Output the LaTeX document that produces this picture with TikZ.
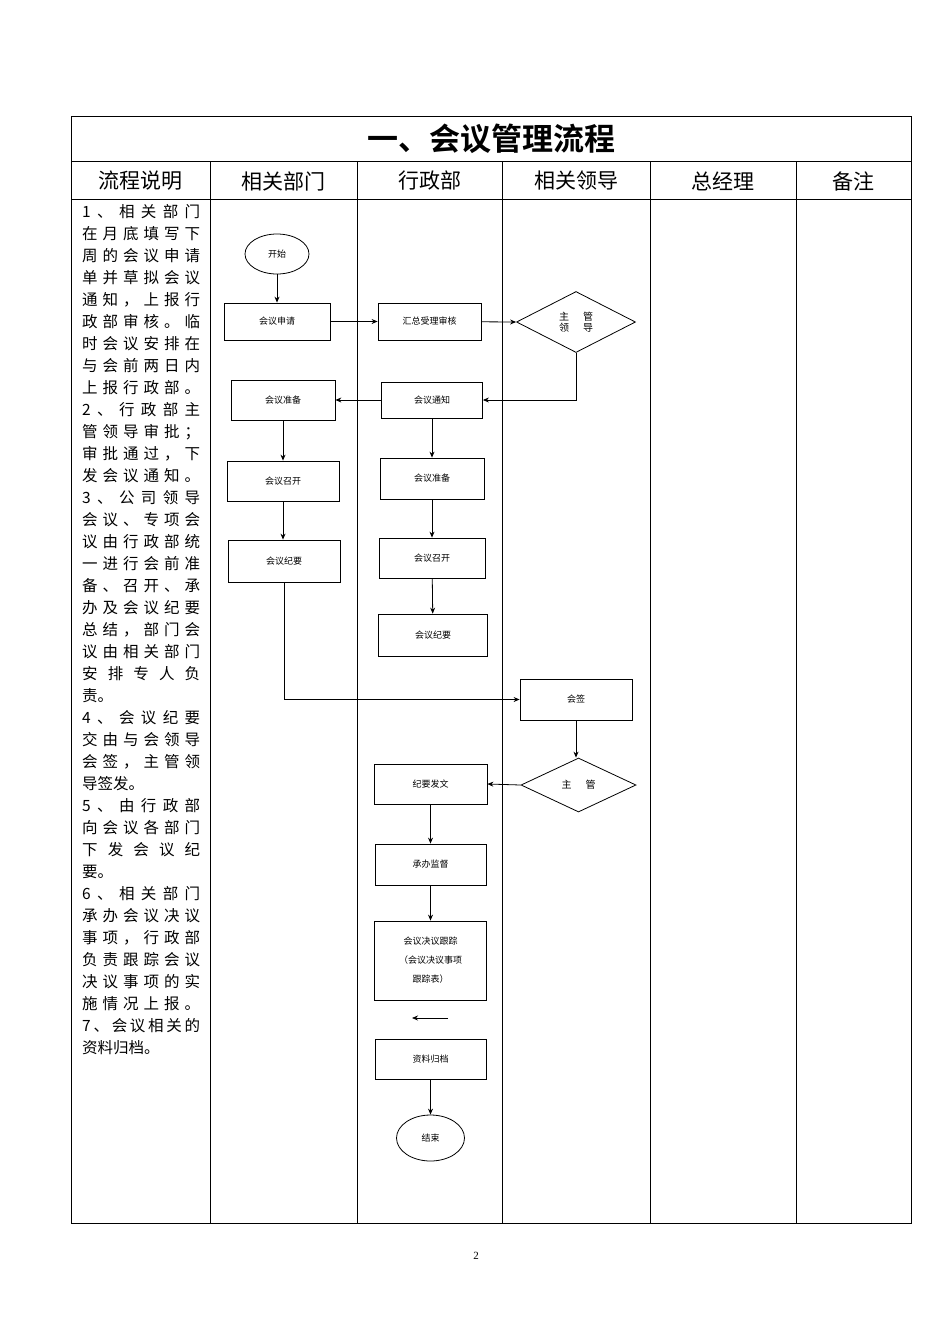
\documentclass[tikz,border=0pt]{standalone}
\usepackage{fontspec}
\setmainfont{Liberation Serif}
\newfontfamily\cjk{Noto Sans CJK SC}
\newfontfamily\cjkb{Noto Sans CJK SC Bold}
\usetikzlibrary{shapes.geometric,arrows.meta}
\def\myspr#1#2\myend{#1\ifx\relax#2\relax\else\hfill\myspr#2\myend\fi}
\begin{document}
\begin{tikzpicture}[x=1pt,y=-1pt,
  bx/.style={draw,line width=0.8pt,font=\cjk\fontsize{9}{11}\selectfont,inner sep=1pt,align=center},
  dm/.style={draw,line width=0.8pt,diamond,inner sep=0pt},
  el/.style={draw,line width=0.8pt,ellipse,font=\cjk\fontsize{9}{11}\selectfont},
  ar/.style={-{Stealth[length=6pt,width=5pt]},line width=0.8pt},
  hd/.style={font=\cjk\fontsize{21}{21}\selectfont},
  ln/.style={anchor=west,font=\cjk\fontsize{15.5}{15.5}\selectfont,inner sep=0pt}]
\useasboundingbox (0,0) rectangle (950,1344);
\draw[line width=0.6pt] (71,116) rectangle (911,1223);
\draw[line width=0.6pt] (71,161) -- (911,161) (71,199) -- (911,199);
\foreach \x in {210,357,502,650,796} \draw[line width=0.6pt] (\x,161) -- (\x,1223);
\node[font=\cjkb\fontsize{31}{31}\selectfont] (title) at (491,139) {一、会议管理流程};
\node[hd] (h1) at (140,181) {流程说明};
\node[hd] (h2) at (283,181) {相关部门};
\node[hd] (h3) at (430,181) {行政部};
\node[hd] (h4) at (576,181) {相关领导};
\node[hd] (h5) at (723,181) {总经理};
\node[hd] (h6) at (853,181) {备注};
\foreach \t [count=\i] in {1、相关部门,在月底填写下,周的会议申请,单并草拟会议,通知，上报行,政部审核。临,时会议安排在,与会前两日内,上报行政部。,2、行政部主,管领导审批；,审批通过，下,发会议通知。,3、公司领导,会议、专项会,议由行政部统,一进行会前准,备、召开、承,办及会议纪要,总结，部门会,议由相关部门,安排专人负,责。,4、会议纪要,交由与会领导,会签，主管领,导签发。,5、由行政部,向会议各部门,下发会议纪,要。,6、相关部门,承办会议决议,事项，行政部,负责跟踪会议,决议事项的实,施情况上报。,7、会议相关的,资料归档。}
  \node[ln] (l\i) at (82,{190+22*\i}) {\ifnum\i=23 \t\else\ifnum\i=27 \t\else\ifnum\i=31 \t\else\ifnum\i=39 \t\else\makebox[118pt][s]{\expandafter\myspr\t\myend}\fi\fi\fi\fi};
\node[el,minimum width=64,minimum height=40] (start) at (277,254) {开始};
\node[bx,minimum width=106,minimum height=37] (sq) at (277,321.5) {会议申请};
\node[bx,minimum width=103,minimum height=37] (hz) at (429.5,321.5) {汇总受理审核};
\node[dm,minimum width=119,minimum height=61] (d1) at (576,322) {};
\node[font=\cjk\fontsize{10}{11}\selectfont,align=center] (d1t) at (576,322) {主\hspace{14pt}管\\领\hspace{14pt}导};
\node[bx,minimum width=104,minimum height=40] (zb1) at (283,400) {会议准备};
\node[bx,minimum width=101,minimum height=36] (tz) at (432,400) {会议通知};
\node[bx,minimum width=112,minimum height=40] (zk1) at (283,481) {会议召开};
\node[bx,minimum width=112,minimum height=42] (jy1) at (284,561) {会议纪要};
\node[bx,minimum width=104,minimum height=41] (zb2) at (432,478.5) {会议准备};
\node[bx,minimum width=106,minimum height=40] (zk2) at (432,558) {会议召开};
\node[bx,minimum width=109,minimum height=42] (jy2) at (433,635) {会议纪要};
\node[bx,minimum width=112,minimum height=41] (hq) at (576,699.5) {会签};
\node[dm,minimum width=115,minimum height=54] (d2) at (578.5,785) {};
\node[font=\cjk\fontsize{10}{10}\selectfont] (d2t) at (578.5,785) {主\hspace{14pt}管};
\node[bx,minimum width=113,minimum height=40] (fw) at (430.5,784) {纪要发文};
\node[bx,minimum width=111,minimum height=41] (jd) at (430.5,864.5) {承办监督};
\node[bx,minimum width=112,minimum height=79,font=\cjk\fontsize{9}{19}\selectfont] (gz) at (430.5,960.5) {会议决议跟踪\\（会议决议事项\\跟踪表）};
\node[bx,minimum width=111,minimum height=40] (gd) at (430.5,1059) {资料归档};
\node[el,minimum width=68,minimum height=46] (end) at (430.5,1138) {结束};
\node[font=\fontsize{11}{11}\selectfont] (pg) at (476,1256) {2};
\coordinate (a1) at (448,1018); \coordinate (a2) at (412,1018);
\draw[ar] (start) -- (sq);
\draw[ar] (sq) -- (hz);
\draw[ar] (hz) -- (d1.west);
\draw[ar] (d1.south) |- (tz.east);
\draw[ar] (tz) -- (zb1);
\draw[ar] (tz) -- (zb2);
\draw[ar] (zb2) -- (zk2);
\draw[ar] (zk2) -- (jy2);
\draw[ar] (zb1) -- (zk1);
\draw[ar] (zk1.south) -- (zk1.south |- jy1.north);
\draw[ar] (jy1.south) |- (hq.west);
\draw[ar] (hq.south) -- (hq.south |- d2.north);
\draw[ar] (d2.west) -- (fw.east);
\draw[ar] (fw) -- (jd);
\draw[ar] (jd) -- (gz);
\draw[ar] (gd) -- (end);
\draw[ar] (a1) -- (a2);
\end{tikzpicture}
\end{document}
